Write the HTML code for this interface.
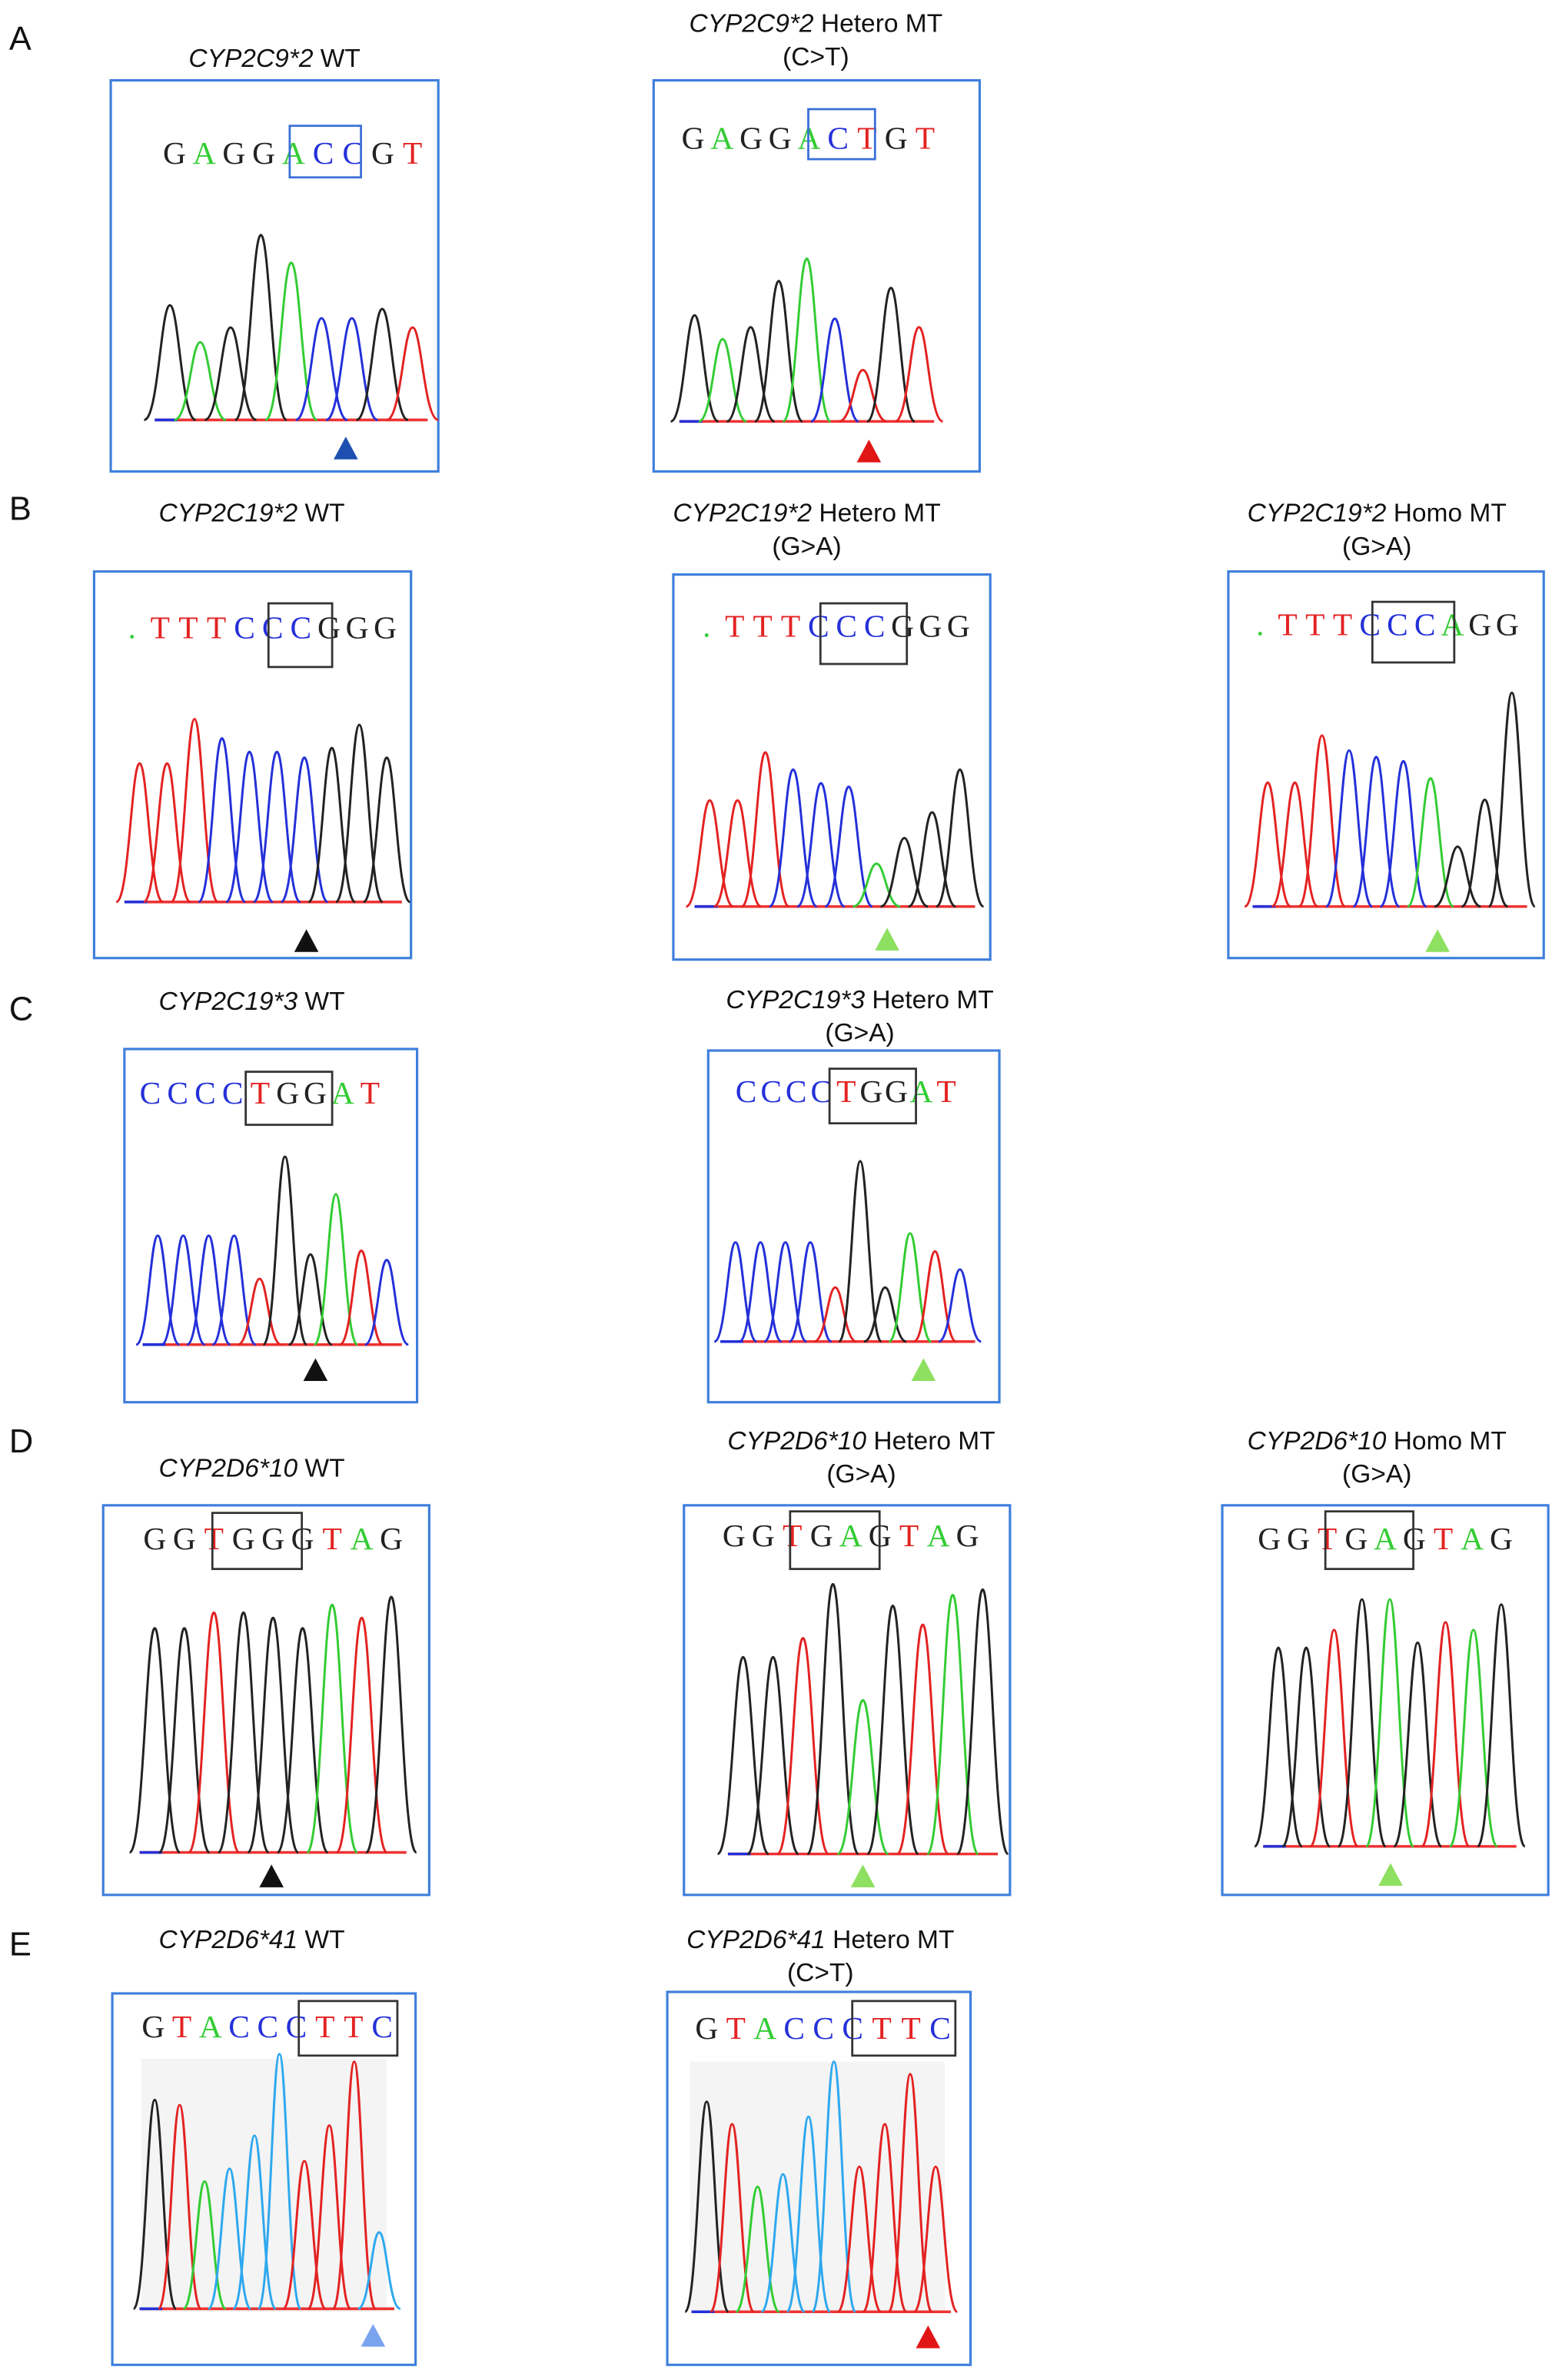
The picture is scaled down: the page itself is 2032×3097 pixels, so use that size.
<!DOCTYPE html>
<html><head><meta charset="utf-8">
<style>
html,body{margin:0;padding:0;background:#fff;}
svg{display:block;}
</style></head>
<body>
<svg id="fig" width="2032" height="3097" viewBox="0 0 1030 1570" xmlns="http://www.w3.org/2000/svg" font-family="Liberation Sans, sans-serif">
</svg>
<script>
// ---- data: peak colors and relative heights per panel ----
const a1Colors=['k','g','k','k','g','b','b','k','r'];
const a1Heights=[0.62,0.42,0.5,1,0.85,0.55,0.55,0.6,0.5];
const a2Colors=['k','g','k','k','g','b','r','k','r'];
const a2Heights=[0.62,0.48,0.55,0.82,0.95,0.6,0.3,0.78,0.55];
const b1Colors=['r','r','r','b','b','b','b','k','k','k'];
const b1Heights=[0.72,0.72,0.95,0.85,0.78,0.78,0.75,0.8,0.92,0.75];
const b2Colors=['r','r','r','b','b','b','g','k','k','k'];
const b2Heights=[0.62,0.62,0.9,0.8,0.72,0.7,0.25,0.4,0.55,0.8];
const b3Colors=['r','r','r','b','b','b','g','k','k','k'];
const b3Heights=[0.58,0.58,0.8,0.73,0.7,0.68,0.6,0.28,0.5,1];
const c1Colors=['b','b','b','b','r','k','k','g','r','b'];
const c1Heights=[0.58,0.58,0.58,0.58,0.35,1,0.48,0.8,0.5,0.45];
const c2Colors=['b','b','b','b','r','k','k','g','r','b'];
const c2Heights=[0.55,0.55,0.55,0.55,0.3,1,0.3,0.6,0.5,0.4];
const d1Colors=['k','k','r','k','k','k','g','r','k'];
const d1Heights=[0.86,0.86,0.92,0.92,0.9,0.86,0.95,0.9,0.98];
const d2Colors=['k','k','r','k','g','k','r','g','k'];
const d2Heights=[0.73,0.73,0.8,1,0.57,0.92,0.85,0.96,0.98];
const d3Colors=['k','k','r','k','g','k','r','g','k'];
const d3Heights=[0.78,0.78,0.85,0.97,0.97,0.8,0.88,0.85,0.95];
const e1Colors=['k','r','g','c','c','c','r','r','r','c'];
const e1Heights=[0.82,0.8,0.5,0.55,0.68,1,0.58,0.72,0.97,0.3];
const e2Colors=['k','r','g','c','c','c','r','r','r','r'];
const e2Heights=[0.84,0.75,0.5,0.55,0.78,1,0.58,0.75,0.95,0.58];

const colorMap={k:'#222',g:'#33cc33',b:'#2430d8',r:'#e32222',c:'#2fa8ee'};

// ---- layout (not data) ----
const panels=[
 {id:'a1',box:[73,53,216,258],title:['WT'],gene:'CYP2C9*2',tx:181,ty:[38],seq:'GAGGACCGT',sc:'kgkkgbbkr',sx:[115,272],sy:108,hb:[191,83,47,34],hbc:'#3a6fd8',px:[112,272],base:277,top:155,colors:a1Colors,heights:a1Heights,arrow:[228,295,'#1d4fb0']},
 {id:'a2',box:[431,53,215,258],title:['Hetero MT','(C>T)'],gene:'CYP2C9*2',tx:538,ty:[15,37],seq:'GAGGACTGT',sc:'kgkkgbrkr',sx:[457,610],sy:98,hb:[533,72,44,33],hbc:'#3a6fd8',px:[458,606],base:278,top:165,colors:a2Colors,heights:a2Heights,arrow:[573,297,'#e01515']},
 {id:'b1',box:[62,377,209,255],title:['WT'],gene:'CYP2C19*2',tx:166,ty:[338],seq:'.TTTCCCGGG',sc:'grrrbbbkkk',sx:[87,254],sy:421,hb:[177,398,42,42],hbc:'#333',px:[92,255],base:595,top:468,colors:b1Colors,heights:b1Heights,arrow:[202,620,'#111']},
 {id:'b2',box:[444,379,209,254],title:['Hetero MT','(G>A)'],gene:'CYP2C19*2',tx:532,ty:[338,360],seq:'.TTTCCCGGG',sc:'grrrbbbkkk',sx:[466,632],sy:420,hb:[541,398,57,40],hbc:'#333',px:[468,633],base:598,top:485,colors:b2Colors,heights:b2Heights,arrow:[585,619,'#8ee060']},
 {id:'b3',box:[810,377,208,255],title:['Homo MT','(G>A)'],gene:'CYP2C19*2',tx:908,ty:[338,360],seq:'.TTTCCCAGG',sc:'grrrbbbgkk',sx:[831,994],sy:419,hb:[905,397,54,40],hbc:'#333',px:[836,997],base:598,top:457,colors:b3Colors,heights:b3Heights,arrow:[948,620,'#8ee060']},
 {id:'c1',box:[82,692,193,233],title:['WT'],gene:'CYP2C19*3',tx:166,ty:[660],seq:'CCCCTGGAT',sc:'bbbbrkkgr',sx:[99,244],sy:728,hb:[162,707,57,35],hbc:'#333',px:[104,255],base:887,top:763,colors:c1Colors,heights:c1Heights,arrow:[208,903,'#111']},
 {id:'c2',box:[467,693,192,232],title:['Hetero MT','(G>A)'],gene:'CYP2C19*3',tx:567,ty:[659,681],seq:'CCCCTGGAT',sc:'bbbbrkkgr',sx:[492,624],sy:727,hb:[547,705,57,36],hbc:'#333',px:[485,633],base:885,top:766,colors:c2Colors,heights:c2Heights,arrow:[609,903,'#8ee060']},
 {id:'d1',box:[68,993,215,257],title:['WT'],gene:'CYP2D6*10',tx:166,ty:[968],seq:'GGTGGGTAG',sc:'kkrkkkrgk',sx:[102,258],sy:1022,hb:[140,998,59,37],hbc:'#333',px:[102,258],base:1222,top:1050,colors:d1Colors,heights:d1Heights,arrow:[179,1237,'#111']},
 {id:'d2',box:[451,993,215,257],title:['Hetero MT','(G>A)'],gene:'CYP2D6*10',tx:568,ty:[950,972],seq:'GGTGAGTAG',sc:'kkrkgkrgk',sx:[484,638],sy:1020,hb:[521,997,59,38],hbc:'#333',px:[490,648],base:1223,top:1045,colors:d2Colors,heights:d2Heights,arrow:[569,1237,'#8ee060']},
 {id:'d3',box:[806,993,215,257],title:['Homo MT','(G>A)'],gene:'CYP2D6*10',tx:908,ty:[950,972],seq:'GGTGAGTAG',sc:'kkrkgkrgk',sx:[837,990],sy:1022,hb:[874,997,58,38],hbc:'#333',px:[843,990],base:1218,top:1050,colors:d3Colors,heights:d3Heights,arrow:[917,1236,'#8ee060']},
 {id:'e1',box:[74,1315,200,245],title:['WT'],gene:'CYP2D6*41',tx:166,ty:[1279],seq:'GTACCCTTC',sc:'krgbbbrrb',sx:[101,252],sy:1344,hb:[197,1320,65,36],hbc:'#333',px:[102,250],base:1523,top:1355,colors:e1Colors,heights:e1Heights,arrow:[246,1540,'#7aa4ee'],bg:[93,1358,162,167]},
 {id:'e2',box:[440,1314,200,246],title:['Hetero MT','(C>T)'],gene:'CYP2D6*41',tx:541,ty:[1279,1301],seq:'GTACCCTTC',sc:'krgbbbrrb',sx:[466,620],sy:1345,hb:[562,1320,68,36],hbc:'#333',px:[466,617],base:1525,top:1360,colors:e2Colors,heights:e2Heights,arrow:[612,1541,'#e01515'],bg:[455,1360,168,165]}
];
const letters=[['A',25],['B',335],['C',665],['D',950],['E',1282]];

const svg=document.getElementById('fig');
const NS='http://www.w3.org/2000/svg';
function mk(tag,attrs,parent){const e=document.createElementNS(NS,tag);for(const k in attrs)e.setAttribute(k,attrs[k]);(parent||svg).appendChild(e);return e;}

letters.forEach(([t,y])=>{
  const e=mk('text',{x:6,y:y+8,'font-size':22,fill:'#111'});
  e.textContent=t;
  
  
});

panels.forEach(p=>{
  const g=mk('g',{});
  
  
  p.ty.forEach((y,i)=>{
    const t=mk('text',{x:p.tx,y:y+6,'text-anchor':'middle','font-size':17,fill:'#111'},g);
    if(i===0){
      const it=mk('tspan',{'font-style':'italic'},t);it.textContent=p.gene;
      const rest=mk('tspan',{},t);rest.textContent=' '+p.title[0];
      
    } else {t.textContent=p.title[i];}
    
  });
  if(p.bg){const bg=mk('rect',{x:p.bg[0],y:p.bg[1],width:p.bg[2],height:p.bg[3],fill:'#f4f4f4'},g);
    }
  const fr=mk('rect',{x:p.box[0],y:p.box[1],width:p.box[2],height:p.box[3],fill:'none',stroke:'#3f7fdc','stroke-width':1.6},g);
  
  const n=p.seq.length;
  for(let i=0;i<n;i++){
    const x=p.sx[0]+(p.sx[1]-p.sx[0])*i/(n-1);
    const t=mk('text',{x:x,y:p.sy,'text-anchor':'middle','font-size':21,'font-family':'Liberation Serif, serif',fill:colorMap[p.sc[i]]},g);
    t.textContent=p.seq[i];
    
    
  }
  const hb=mk('rect',{x:p.hb[0],y:p.hb[1],width:p.hb[2],height:p.hb[3],fill:'none',stroke:p.hbc,'stroke-width':1.4},g);
  
  const bl=mk('line',{x1:p.px[0]-10,x2:p.px[1]+10,y1:p.base,y2:p.base,stroke:'#e33','stroke-width':1.8},g);
  
  mk('line',{x1:p.px[0]-10,x2:p.px[0]+5,y1:p.base,y2:p.base,stroke:'#2430d8','stroke-width':1.8},g);
  const m=p.colors.length;
  const xScale=i=>p.px[0]+(p.px[1]-p.px[0])*i/(m-1);
  const yScale=h=>p.base-(p.base-p.top)*h;
  const w=(p.px[1]-p.px[0])/(m-1)*0.85;
  p.colors.forEach((c,i)=>{
    const x=xScale(i),y=yScale(p.heights[i]);
    const d=`M${x-w},${p.base} C${x-w*0.45},${p.base} ${x-w*0.35},${y} ${x},${y} C${x+w*0.35},${y} ${x+w*0.45},${p.base} ${x+w},${p.base}`;
    const path=mk('path',{d:d,fill:'none',stroke:colorMap[c],'stroke-width':1.5},g);
    
    
  });
  const [ax,ay,ac]=p.arrow;
  const tri=mk('polygon',{points:`${ax-8},${ay+8} ${ax+8},${ay+8} ${ax},${ay-7}`,fill:ac},g);
  
  
});
</script>
</body></html>
